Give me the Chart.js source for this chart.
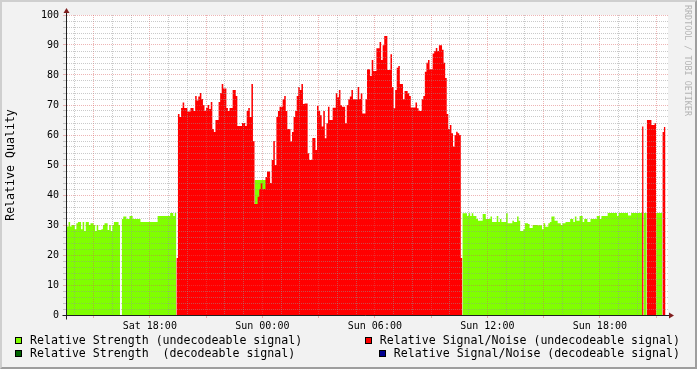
<!DOCTYPE html>
<html>
<head>
<meta charset="utf-8">
<title>Relative Quality</title>
<script src="https://cdn.jsdelivr.net/npm/chart.js@4.4.1/dist/chart.umd.min.js"></script>
<style>
    html, body { margin: 0; padding: 0; }
    body {
        width: 697px;
        height: 369px;
        position: relative;
        overflow: hidden;
        background: #f2f2f2;
        font-family: "DejaVu Sans Mono", monospace;
    }
    #chart { position: absolute; left: 0; top: 0; }
    #frame {
        position: absolute;
        left: 0;
        top: 0;
        width: 697px;
        height: 369px;
        box-sizing: border-box;
        border-style: solid;
        border-width: 2px;
        border-color: #cfcfcf #9e9e9e #9e9e9e #cfcfcf;
        pointer-events: none;
    }
    .legend {
        position: absolute;
        top: 334px;
        font-size: 11.6px;
        line-height: 13px;
        white-space: pre;
        color: #000;
    }
    .legend .row { display: flex; align-items: center; height: 13px; }
    .legend .box {
        width: 7px;
        height: 7px;
        box-sizing: border-box;
        border: 1px solid #000;
        margin-right: 8px;
        flex: none;
    }
    #legendLeft { left: 15px; }
    #legendRight { right: 17px; }
    #legendRight .row { justify-content: flex-end; }
    #credit {
        position: absolute;
        left: 684px;
        top: 5px;
        writing-mode: vertical-rl;
        font-size: 8.4px;
        line-height: 8.4px;
        color: #b4b4b4;
        white-space: pre;
    }
</style>
</head>
<body>
<canvas id="chart" width="697" height="369"></canvas>
<div id="legendLeft" class="legend"></div>
<div id="legendRight" class="legend"></div>
<div id="credit">RRDTOOL / TOBI OETIKER</div>
<div id="frame"></div>
<script>
// Relative quality graph, rrdtool look

const DAYS = ['Sat', 'Sun'];
const STEP_MINUTES = 5;

// time axis
const VIEW_START = 'Sat 13:35';
const VIEW_END = 'Sun 21:38';
const TIME_LABELS = ['Sat 18:00', 'Sun 00:00', 'Sun 06:00', 'Sun 12:00', 'Sun 18:00'];
const MAJOR_EVERY_HOURS = 3;

// value axis
const Y_MAX = 100;
const Y_MINOR_STEP = 2;
const Y_LABEL_STEP = 10;

// Relative Strength (undecodeable signal), 5 minute samples
const strengthSatStart = 'Sat 13:35';
const strengthSat = [
    29.5, 31, 29.5, 30, 30, 28.6, 30.6, 31, 31, 28.6,
    31, 28, 31, 31, 30, 30.6, 30.6, 30, 28, 30,
    28.3, 28.3, 28.6, 30, 30.6, 30.6, 28.3, 30, 28, 30,
    31, 31, 31, 30, null, 32, 32.8, 32.8, 32, 32,
    33, 33, 32, 32, 32, 32, 32, 31, 31, 31,
    31, 31, 31, 31, 31, 31, 31, 31, 33, 33,
    33, 33, 33, 33, 33, 33, 34, 34, 33, 34
];
const strengthMidnightStart = 'Sat 23:35';
const strengthMidnight = [45, 45, 45, 45, 45, 45, 45, 45, 45];
const strengthSunStart = 'Sun 10:40';
const strengthSun = [
    33.9, 33.9, 33.9, 33, 33.9, 33, 33.9, 33, 33, 32,
    31.4, 31.4, 31.4, 33.7, 33.7, 32, 32, 32, 32.8, 31,
    31, 31, 33, 31, 32, 31, 31, 31, 33.9, 30.6,
    30.6, 30.6, 31.4, 31, 31, 32.8, 31.4, 28, 28, 28.6,
    30.6, 30.6, 30.3, 29, 29, 30, 30, 30, 29.9, 29.9,
    29.9, 28.6, 30.6, 29.4, 29.4, 30.6, 31, 32.8, 32.8, 31.4,
    31.4, 30.6, 30.6, 30, 30.6, 30.6, 31, 31, 31, 32,
    32, 31, 32.8, 31.4, 31.4, 33, 33, 31, 32, 32,
    31, 31, 32, 32, 32, 32, 33, 33, 32, 33,
    33, 33, 33, 34, 34, 34, 34, 34, 34, 33,
    34, 34, 34, 34, 34, 34, 33.2, 33.2, 34, 34,
    34, 34, 34, 34, 34, null, 34, 34, null, null,
    null, null, null, null, 34, 34, 34, 34
];

// Relative Signal/Noise (undecodeable signal), 5 minute samples
const snrNightStart = 'Sat 19:25';
const snrNight = [
    19, 67, 66, 69, 70.8, 69, 69, 67.8, 67.8, 69,
    69, 68, 73, 71.5, 72.8, 74, 72, 70, 68, 69,
    70, 68.7, 71, 62, 61, 65, 65, 71, 74, 77,
    75.5, 75.5, 69, 68, 69, 69, 75, 75, 73, 63,
    63, 63, 64, 64, 63, 68, 69, 66, 77, 58,
    37, 37, 39.4, 42, 44, 42, 42, 46, 47.8, 47.8,
    44, 51.7, 58, 50, 66, 68, 69.4, 69.4, 71.9, 73,
    68, 62, 62, 57.8, 61, 66, 68, 73, 76, 75,
    77, 70.3, 70.5, 70.5, 53.9, 51.7, 51.7, 59, 59, 55,
    69.7, 68, 66.6, 62.8, 68, 58.9, 63.9, 69.4, 65, 65,
    69.1, 69.1, 73.9, 72.6, 75, 69.9, 69.4, 69.4, 63.9, 70,
    71.9, 72.8, 75, 71.9, 71.9, 71.9, 76, 72, 73.9, 67.2,
    67.2, 71.9, 81.9, 81.9, 79.7, 85, 81.3, 81.3, 88.9, 88.9,
    91, 85, 89.9, 93, 93, 81.7, 81.7, 86.9, 76, 68.9,
    75, 82.4, 83, 77, 77, 71.9, 74.7, 74.7, 73.9, 73,
    69.2, 69.2, 69.2, 70.8, 68.9, 68, 68, 71.9, 73, 81.1,
    84.1, 85, 81.9, 81.9, 87.2, 88, 89, 88, 89.9, 89.9,
    88.4, 84.1, 79, 67, 62, 63.3, 60.6, 56.1, 60, 61.1,
    60.6, 60, 19
];
const snrEveningStart = 'Sun 20:15';
const snrEvening = [62.8, null, null, 65, 65, 65, 63.3, 63.3, 64, null, null, null, null, 61, 62.7];

// decodeable signal: nothing in this window
const strengthOk = [];
const snrOk = [];

const COLORS = {
    strength: '#80ff00',
    strengthOk: '#006400',
    snr: '#ff0000',
    snrOk: '#000090'
};
const GRID_MINOR = 'rgba(150, 150, 150, 0.5)';
const GRID_MAJOR = 'rgba(215, 90, 90, 0.45)';

function toHours(stamp) {
    const [day, hm] = stamp.split(' ');
    const [h, m] = hm.split(':').map(Number);
    return DAYS.indexOf(day) * 24 + h + m / 60;
}

// rrd samples -> stepped points, a null between runs
function stepPoints(segments) {
    const step = STEP_MINUTES / 60;
    const points = [];
    segments.forEach(([start, values]) => {
        const t0 = toHours(start);
        values.forEach((v, i) => {
            const t = t0 + i * step;
            points.push({ x: t, y: v });
            const next = values[i + 1];
            if (v !== null && (next === undefined || next === null)) {
                points.push({ x: t + step, y: v });
            }
        });
        points.push({ x: t0 + values.length * step, y: null });
    });
    return points;
}

const xMin = toHours(VIEW_START);
const xMax = toHours(VIEW_END);
const labelHours = TIME_LABELS.map(toHours);

const hourTicks = [];
for (let h = Math.ceil(xMin); h <= xMax; h++) hourTicks.push(h);
const valueTicks = [];
for (let v = 0; v <= Y_MAX; v += Y_MINOR_STEP) valueTicks.push(v);

const isMajorHour = v => Number.isInteger(v) && v % MAJOR_EVERY_HOURS === 0;
const isMajorValue = v => v % Y_LABEL_STEP === 0;

const rrdCanvas = {
    id: 'rrdCanvas',
    beforeDraw(chart) {
        const { ctx, chartArea: a } = chart;
        ctx.save();
        ctx.fillStyle = '#ffffff';
        ctx.fillRect(a.left, a.top, a.right - a.left, a.bottom - a.top);
        ctx.restore();
    },
    afterDraw(chart) {
        const { ctx, chartArea: a } = chart;
        const x0 = Math.round(a.left) - 0.5;
        const y0 = Math.round(a.bottom) + 0.5;
        ctx.save();
        ctx.strokeStyle = '#1f1f1f';
        ctx.lineWidth = 1;
        ctx.beginPath();
        ctx.moveTo(x0, y0 + 4);
        ctx.lineTo(x0, a.top - 2);
        ctx.moveTo(x0 - 4, y0);
        ctx.lineTo(a.right + 1, y0);
        ctx.stroke();

        // arrows
        ctx.fillStyle = '#801f1f';
        ctx.beginPath();
        ctx.moveTo(x0, a.top - 7);
        ctx.lineTo(x0 - 3, a.top - 2);
        ctx.lineTo(x0 + 3, a.top - 2);
        ctx.closePath();
        ctx.fill();
        ctx.beginPath();
        ctx.moveTo(a.right + 6, y0);
        ctx.lineTo(a.right + 1, y0 - 3);
        ctx.lineTo(a.right + 1, y0 + 3);
        ctx.closePath();
        ctx.fill();
        ctx.restore();
    }
};

const areaStyle = {
    fill: 'origin',
    stepped: 'before',
    borderWidth: 0,
    borderColor: 'rgba(0, 0, 0, 0)',
    pointRadius: 0,
    spanGaps: false
};

Chart.defaults.font.family = '"DejaVu Sans Mono", monospace';
Chart.defaults.color = '#000';

const chart = new Chart(document.getElementById('chart'), {
    type: 'line',
    data: {
        datasets: [
            {
                ...areaStyle,
                label: 'Relative Strength (undecodeable signal)',
                data: stepPoints([
                    [strengthSatStart, strengthSat],
                    [strengthMidnightStart, strengthMidnight],
                    [strengthSunStart, strengthSun]
                ]),
                backgroundColor: COLORS.strength,
                order: 2
            },
            {
                ...areaStyle,
                label: 'Relative Strength  (decodeable signal)',
                data: strengthOk,
                backgroundColor: COLORS.strengthOk,
                order: 3
            },
            {
                ...areaStyle,
                label: 'Relative Signal/Noise (undecodeable signal)',
                data: stepPoints([
                    [snrNightStart, snrNight],
                    [snrEveningStart, snrEvening]
                ]),
                backgroundColor: COLORS.snr,
                order: 1
            },
            {
                ...areaStyle,
                label: 'Relative Signal/Noise (decodeable signal)',
                data: snrOk,
                backgroundColor: COLORS.snrOk,
                order: 0
            }
        ]
    },
    options: {
        responsive: false,
        devicePixelRatio: 1,
        animation: false,
        events: [],
        layout: { padding: { top: 15, right: 29, bottom: 34, left: 0 } },
        plugins: {
            legend: { display: false },
            tooltip: { enabled: false }
        },
        scales: {
            x: {
                type: 'linear',
                min: xMin,
                max: xMax,
                afterBuildTicks: axis => { axis.ticks = hourTicks.map(v => ({ value: v })); },
                afterFit: axis => { axis.height = 20; },
                grid: {
                    z: 1,
                    lineWidth: 1,
                    color: c => isMajorHour(c.tick.value) ? GRID_MAJOR : GRID_MINOR,
                    tickLength: 3,
                    tickColor: c => isMajorHour(c.tick.value) ? GRID_MAJOR : 'rgba(0, 0, 0, 0)'
                },
                border: { display: false, dash: [1, 1] },
                ticks: {
                    autoSkip: false,
                    maxRotation: 0,
                    padding: 2,
                    font: { size: 10 },
                    callback: v => {
                        const i = labelHours.findIndex(h => Math.abs(h - v) < 1e-6);
                        return i >= 0 ? TIME_LABELS[i] : '';
                    }
                }
            },
            y: {
                min: 0,
                max: Y_MAX,
                afterBuildTicks: axis => { axis.ticks = valueTicks.map(v => ({ value: v })); },
                afterFit: axis => { axis.width = 67; },
                grid: {
                    z: 1,
                    lineWidth: 1,
                    color: c => isMajorValue(c.tick.value) ? GRID_MAJOR : GRID_MINOR,
                    tickLength: 4,
                    tickColor: c => isMajorValue(c.tick.value) ? GRID_MAJOR : GRID_MINOR
                },
                border: { display: false, dash: [1, 1] },
                ticks: {
                    autoSkip: false,
                    padding: 4,
                    font: { size: 10 },
                    callback: v => isMajorValue(v) ? String(v) : ''
                },
                title: {
                    display: true,
                    text: 'Relative Quality',
                    font: { size: 11.6 },
                    padding: { top: 4, bottom: 0 }
                }
            }
        }
    },
    plugins: [rrdCanvas]
});

// legend in two columns, like rrdtool prints it
const legendColumns = [['legendLeft', [0, 1]], ['legendRight', [2, 3]]];
legendColumns.forEach(([id, indexes]) => {
    const column = document.getElementById(id);
    indexes.forEach(i => {
        const ds = chart.data.datasets[i];
        const row = document.createElement('div');
        row.className = 'row';
        const box = document.createElement('span');
        box.className = 'box';
        box.style.background = ds.backgroundColor;
        const text = document.createElement('span');
        text.textContent = ds.label;
        row.appendChild(box);
        row.appendChild(text);
        column.appendChild(row);
    });
});
</script>
</body>
</html>
